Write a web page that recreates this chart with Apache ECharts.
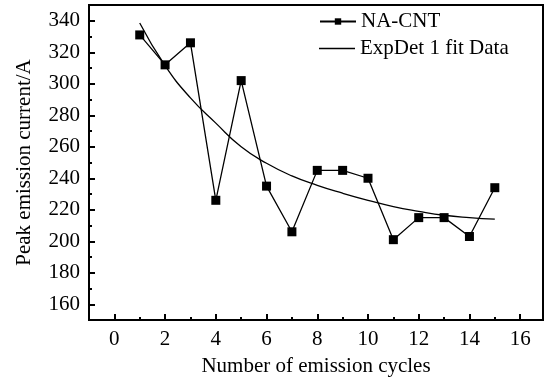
<!DOCTYPE html>
<html>
<head>
<meta charset="utf-8">
<script src="https://cdn.jsdelivr.net/npm/echarts@6/dist/echarts.min.js"></script>
<style>
  html, body { margin: 0; padding: 0; background: #fff; }
  #main { width: 545px; height: 385px; }
</style>
</head>
<body>
<div id="main"></div>
<script>
// 数据
const cycles = [1, 2, 3, 4, 5, 6, 7, 8, 9, 10, 11, 12, 13, 14, 15]
const naCnt = [331, 312, 326, 226, 302, 235, 206, 245, 245, 240, 201, 215, 215, 203, 234]
const fitData = [338.6, 311.5, 291, 275, 260, 249.5, 241.5, 235.5, 230.5, 226, 222, 219, 216.5, 215, 214]
const xLabels = [0, 2, 4, 6, 8, 10, 12, 14, 16]
const xMinor = [1, 3, 5, 7, 9, 11, 13, 15]
const yLabels = [160, 180, 200, 220, 240, 260, 280, 300, 320, 340]
const yMinor = [170, 190, 210, 230, 250, 270, 290, 310, 330]

const font = 'Liberation Serif'
const textBase = { fontFamily: font, fontSize: 21, color: '#000' }

var myChart = echarts.init(document.getElementById('main'))
const axisBase = {
    type: 'value',
    axisLine: { show: true, onZero: false, lineStyle: { color: '#000', width: 2 } },
    splitLine: { show: false }
}
const option = {
    animation: false,
    grid: {
        left: 89,
        right: 2,
        top: 5,
        bottom: 65,
        show: true,
        borderColor: '#000',
        borderWidth: 2
    },
    legend: [
        {
            left: 314,
            top: 6,
            itemWidth: 36,
            itemHeight: 8,
            itemGap: 5,
            textStyle: textBase,
            data: ['NA-CNT']
        },
        {
            left: 314,
            top: 33,
            icon: 'rect',
            itemWidth: 36,
            itemHeight: 1.5,
            itemGap: 5,
            textStyle: textBase,
            data: ['ExpDet 1 fit Data']
        }
    ],
    xAxis: [
        Object.assign({}, axisBase, {
            min: -1,
            max: 16.9,
            name: 'Number of emission cycles',
            nameLocation: 'middle',
            nameGap: 36,
            nameTextStyle: textBase,
            axisTick: { show: true, inside: true, length: 6, customValues: xLabels, lineStyle: { color: '#000', width: 2 } },
            axisLabel: Object.assign({ customValues: xLabels, margin: 9 }, textBase)
        }),
        Object.assign({}, axisBase, {
            min: -1,
            max: 16.9,
            position: 'bottom',
            axisLine: { show: false, onZero: false },
            axisTick: { show: true, inside: true, length: 3, customValues: xMinor, lineStyle: { color: '#000', width: 2 } },
            axisLabel: { show: false }
        })
    ],
    yAxis: [
        Object.assign({}, axisBase, {
            min: 150,
            max: 350,
            name: 'Peak emission current/A',
            nameLocation: 'middle',
            nameGap: 54,
            nameTextStyle: textBase,
            axisTick: { show: true, inside: true, length: 6, customValues: yLabels, lineStyle: { color: '#000', width: 2 } },
            axisLabel: Object.assign({ customValues: yLabels, margin: 9 }, textBase)
        }),
        Object.assign({}, axisBase, {
            min: 150,
            max: 350,
            position: 'left',
            axisLine: { show: false, onZero: false },
            axisTick: { show: true, inside: true, length: 3, customValues: yMinor, lineStyle: { color: '#000', width: 2 } },
            axisLabel: { show: false }
        })
    ],
    series: [
        {
            name: 'NA-CNT',
            type: 'line',
            xAxisIndex: 0,
            yAxisIndex: 0,
            symbol: 'rect',
            symbolSize: 9,
            itemStyle: { color: '#000' },
            lineStyle: { color: '#000', width: 1.3 },
            data: cycles.map((c, i) => [c, naCnt[i]])
        },
        {
            name: 'ExpDet 1 fit Data',
            type: 'line',
            xAxisIndex: 0,
            yAxisIndex: 0,
            smooth: true,
            symbol: 'none',
            itemStyle: { color: '#000' },
            lineStyle: { color: '#000', width: 1.3 },
            data: cycles.map((c, i) => [c, fitData[i]])
        }
    ]
}
myChart.setOption(option)
</script>
</body>
</html>
